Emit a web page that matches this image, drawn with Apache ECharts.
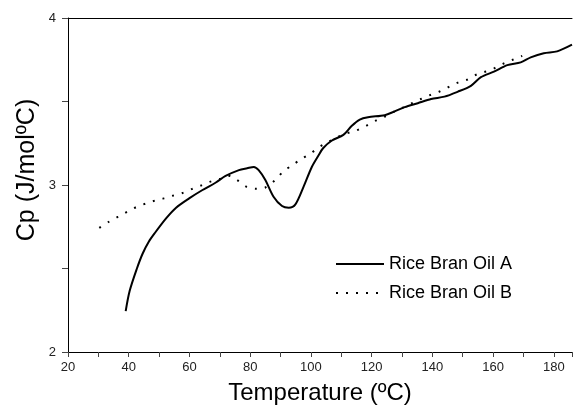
<!DOCTYPE html>
<html>
<head>
<meta charset="utf-8">
<script src="https://cdn.jsdelivr.net/npm/echarts@6/dist/echarts.min.js"></script>
<style>
  html, body { margin: 0; padding: 0; background: #fff; }
  #chart { width: 575px; height: 410px; }
</style>
</head>
<body>
<div id="chart"></div>
<script>
// Rice Bran Oil A (solid) - temperature / Cp
var tempA = [39.0, 40.3, 42.7, 44.6, 46.6, 48.5, 52.3, 55.6, 59.9, 64.3, 68.7, 71.9, 76.3, 79.0, 81.2, 82.8,
  85.0, 87.7, 90.5, 92.7, 94.9, 97.6, 100.3, 102.5, 104.0, 106.8, 110.7, 113.4, 116.1, 118.8, 124.3,
  127.6, 130.9, 135.2, 139.6, 144.0, 148.3, 152.7, 156.0, 160.3, 164.7, 169.1, 172.4, 176.7, 181.1, 186.0];
var cpA = [2.245, 2.365, 2.50, 2.59, 2.66, 2.71, 2.80, 2.864, 2.92, 2.97, 3.015, 3.054, 3.089, 3.10, 3.108, 3.089,
  3.03, 2.93, 2.874, 2.864, 2.884, 2.99, 3.108, 3.177, 3.22, 3.265, 3.30, 3.353, 3.392, 3.406, 3.418,
  3.441, 3.466, 3.49, 3.515, 3.529, 3.558, 3.594, 3.646, 3.679, 3.718, 3.734, 3.764, 3.789, 3.80, 3.84];

// Rice Bran Oil B (dotted)
var tempB = [30.3, 33.5, 36.5, 39.5, 42.5, 45.8, 48.7, 51.5, 54.5, 57.7, 60.7, 63.8, 66.7, 70.0, 72.8, 75.7,
  78.7, 82.0, 85.0, 88.0, 90.8, 94.1, 97.0, 100.1, 103.0, 106.0, 109.0, 112.0, 115.0, 118.3, 121.4,
  124.4, 127.4, 130.4, 133.3, 136.2, 139.2, 142.4, 145.5, 148.4, 151.4, 154.4, 157.6, 160.5, 163.6, 166.5, 169.6];
var cpB = [2.743, 2.78, 2.81, 2.84, 2.868, 2.89, 2.907, 2.92, 2.936, 2.952, 2.975, 2.997, 3.019, 3.036, 3.056, 3.03,
  2.99, 2.977, 2.985, 3.026, 3.079, 3.122, 3.157, 3.192, 3.23, 3.26, 3.29, 3.31, 3.327, 3.355, 3.386,
  3.41, 3.44, 3.465, 3.49, 3.515, 3.538, 3.56, 3.588, 3.613, 3.63, 3.66, 3.68, 3.70, 3.728, 3.75, 3.773];

var seriesNames = ['Rice Bran Oil A', 'Rice Bran Oil B'];

function pairs(xs, ys) {
  return xs.map(function(x, i) { return [x, ys[i]]; });
}

var font = 'Liberation Sans, Arial, sans-serif';
var chart = echarts.init(document.getElementById('chart'), null, { renderer: 'canvas' });
chart.setOption({
  animation: false,
  backgroundColor: '#fff',
  grid: { left: 68, right: 0, top: 18, bottom: 51 },
  legend: {
    orient: 'vertical',
    left: 335,
    top: 254,
    padding: 0,
    itemWidth: 48,
    itemHeight: 14,
    itemGap: 9,
    data: seriesNames,
    itemStyle: { opacity: 0 },
    textStyle: { fontFamily: font, fontSize: 18, color: '#000', lineHeight: 20 }
  },
  xAxis: [{
    type: 'value',
    min: 20,
    max: 186,
    interval: 10,
    name: 'Temperature (ºC)',
    nameLocation: 'middle',
    nameGap: 29,
    nameTextStyle: { fontFamily: font, fontSize: 24, color: '#000' },
    axisLine: { onZero: false, lineStyle: { color: '#000', width: 1 } },
    axisTick: { length: 5, lineStyle: { color: '#444' } },
    axisLabel: {
      margin: 9,
      fontFamily: font,
      fontSize: 13,
      color: '#222',
      formatter: function(v) { return v % 20 === 0 ? String(v) : ''; }
    },
    splitLine: { show: false }
  }, {
    type: 'value',
    position: 'top',
    min: 20,
    max: 186,
    axisLine: { show: true, onZero: false, lineStyle: { color: '#000', width: 1 } },
    axisTick: { show: false },
    axisLabel: { show: false },
    splitLine: { show: false }
  }],
  yAxis: {
    type: 'value',
    min: 2,
    max: 4,
    interval: 0.5,
    axisLine: { show: true, onZero: false, lineStyle: { color: '#000', width: 1 } },
    axisTick: { show: true, length: 6, lineStyle: { color: '#444' } },
    axisLabel: {
      margin: 12,
      fontFamily: font,
      fontSize: 13,
      color: '#222',
      formatter: function(v) { return v % 1 === 0 ? String(v) : ''; }
    },
    splitLine: { show: false }
  },
  graphic: [{
    type: 'text',
    x: 27,
    y: 170,
    rotation: Math.PI / 2,
    style: {
      text: 'Cp (J/molºC)',
      font: '25px ' + font,
      fill: '#000',
      align: 'center',
      verticalAlign: 'middle'
    }
  }],
  series: [{
    name: seriesNames[0],
    type: 'line',
    data: pairs(tempA, cpA),
    symbol: 'none',
    smooth: 0.3,
    lineStyle: { color: '#000', width: 2 },
    itemStyle: { color: '#000' }
  }, {
    name: seriesNames[1],
    type: 'line',
    data: pairs(tempB, cpB),
    symbol: 'none',
    smooth: 0.3,
    lineStyle: { color: '#000', width: 2, type: [2, 8] },
    itemStyle: { color: '#000' }
  }]
});
</script>
</body>
</html>
